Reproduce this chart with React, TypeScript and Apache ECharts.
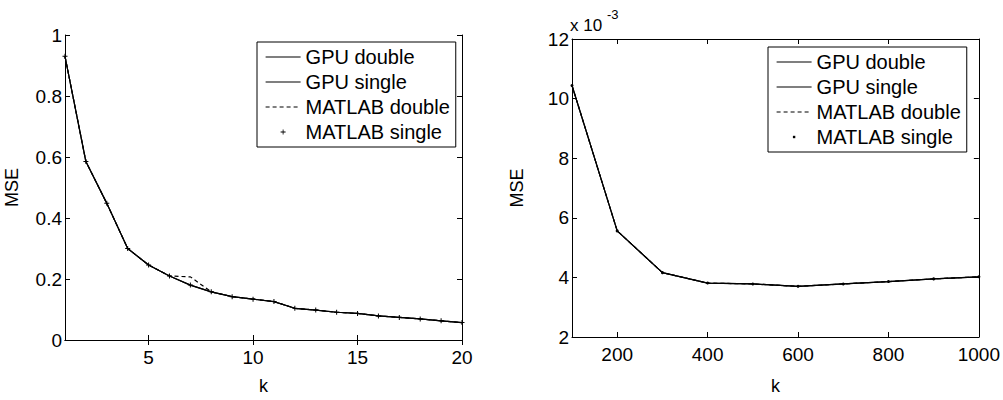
import React, { useEffect, useRef } from "react";
import * as echarts from "echarts";

// ---------- data ----------
const kLeft = [1, 2, 3, 4, 5, 6, 7, 8, 9, 10, 11, 12, 13, 14, 15, 16, 17, 18, 19, 20];
const leftGpuDouble = [0.93, 0.585, 0.448, 0.3, 0.246, 0.21, 0.18, 0.158, 0.142, 0.134, 0.126, 0.104, 0.098, 0.091, 0.087, 0.079, 0.074, 0.069, 0.063, 0.057];
const leftGpuSingle = [0.93, 0.585, 0.448, 0.3, 0.246, 0.21, 0.18, 0.158, 0.142, 0.134, 0.126, 0.104, 0.098, 0.091, 0.087, 0.079, 0.074, 0.069, 0.063, 0.057];
const leftMatlabDouble = [0.93, 0.585, 0.448, 0.3, 0.246, 0.21, 0.207, 0.158, 0.142, 0.134, 0.126, 0.104, 0.098, 0.091, 0.087, 0.079, 0.074, 0.069, 0.063, 0.057];
const leftMatlabSingle = [0.93, 0.585, 0.448, 0.3, 0.246, 0.21, 0.18, 0.158, 0.142, 0.134, 0.126, 0.104, 0.098, 0.091, 0.087, 0.079, 0.074, 0.069, 0.063, 0.057];

// right chart values in units of 1e-3
const kRight = [100, 200, 300, 400, 500, 600, 700, 800, 900, 1000];
const rightGpuDouble = [10.44, 5.56, 4.16, 3.81, 3.78, 3.7, 3.78, 3.86, 3.95, 4.02];
const rightGpuSingle = [10.44, 5.56, 4.16, 3.81, 3.78, 3.7, 3.78, 3.86, 3.95, 4.02];
const rightMatlabDouble = [10.44, 5.56, 4.16, 3.81, 3.78, 3.7, 3.78, 3.86, 3.95, 4.02];
const rightMatlabSingle = [10.44, 5.56, 4.16, 3.81, 3.78, 3.7, 3.78, 3.86, 3.95, 4.02];

const leftXTicks = [5, 10, 15, 20];
const rightXTicks = [200, 400, 600, 800, 1000];
const seriesNames = ["GPU double", "GPU single", "MATLAB double", "MATLAB single"];

const FONT = "'Liberation Sans', Arial, sans-serif";
const PLUS = "path://M2 0 L3 0 L3 2 L5 2 L5 3 L3 3 L3 5 L2 5 L2 3 L0 3 L0 2 L2 2 Z";
// legend icons with an invisible padded bounding box so the mark stays small
const PLUS_ICON = "path://M0 0 M10 10 M4.6 2.5 L5.4 2.5 L5.4 4.6 L7.5 4.6 L7.5 5.4 L5.4 5.4 L5.4 7.5 L4.6 7.5 L4.6 5.4 L2.5 5.4 L2.5 4.6 L4.6 4.6 Z";
const DOT_ICON = "path://M0 0 M10 10 M3.8 3.8 L6.2 3.8 L6.2 6.2 L3.8 6.2 Z";

const zip = (xs: number[], ys: number[]) => xs.map((x, i) => [x, ys[i]]);

function App() {
  const ref = useRef<HTMLDivElement>(null);
  useEffect(() => {
    if (!ref.current) return;
    const chart = echarts.init(ref.current, null, { renderer: "svg" });

    const axisLine = { show: true, lineStyle: { color: "#000", width: 1 } };
    const tick = (custom?: number[]) => ({
      show: true,
      inside: true,
      length: 5,
      lineStyle: { color: "#000", width: 1 },
      ...(custom ? { customValues: custom } : {}),
    });
    const label = (extra: any = {}) => ({
      color: "#000",
      fontFamily: FONT,
      fontSize: 19,
      ...extra,
    });
    const nameStyle = { color: "#000", fontFamily: FONT, fontSize: 18 };

    const xAxes: any[] = [
      {
        type: "value", gridIndex: 0, min: 1, max: 20, position: "bottom",
        name: "k", nameLocation: "middle", nameGap: 37, nameTextStyle: nameStyle,
        axisLine, axisTick: tick(leftXTicks), splitLine: { show: false },
        axisLabel: label({ customValues: leftXTicks, margin: 8 }),
      },
      {
        type: "value", gridIndex: 0, min: 1, max: 20, position: "top",
        axisLine, axisTick: tick(leftXTicks), splitLine: { show: false },
        axisLabel: { show: false },
      },
      {
        type: "value", gridIndex: 1, min: 100, max: 1000, position: "bottom",
        name: "k", nameLocation: "middle", nameGap: 40, nameTextStyle: nameStyle,
        axisLine, axisTick: tick(rightXTicks), splitLine: { show: false },
        axisLabel: label({ customValues: rightXTicks, margin: 8, formatter: (v: number) => String(v) }),
      },
      {
        type: "value", gridIndex: 1, min: 100, max: 1000, position: "top",
        axisLine, axisTick: tick(rightXTicks), splitLine: { show: false },
        axisLabel: { show: false },
      },
    ];
    const yAxes: any[] = [
      {
        type: "value", gridIndex: 0, min: 0, max: 1, interval: 0.2, position: "left",
        name: "MSE", nameLocation: "middle", nameGap: 44, nameRotate: 90, nameTextStyle: nameStyle,
        axisLine, axisTick: tick(), splitLine: { show: false },
        axisLabel: label({ margin: 3, formatter: (v: number) => String(Math.round(v * 10) / 10) }),
      },
      {
        type: "value", gridIndex: 0, min: 0, max: 1, interval: 0.2, position: "right",
        axisLine, axisTick: tick(), splitLine: { show: false }, axisLabel: { show: false },
      },
      {
        type: "value", gridIndex: 1, min: 2, max: 12, interval: 2, position: "left",
        name: "MSE", nameLocation: "middle", nameGap: 46, nameRotate: 90, nameTextStyle: nameStyle,
        axisLine, axisTick: tick(), splitLine: { show: false },
        axisLabel: label({ margin: 3 }),
      },
      {
        type: "value", gridIndex: 1, min: 2, max: 12, interval: 2, position: "right",
        axisLine, axisTick: tick(), splitLine: { show: false }, axisLabel: { show: false },
      },
    ];

    const makeSeries = (xi: number, yi: number, xs: number[], sets: number[][], markerSymbol: string, markerSize: number) => [
      {
        name: seriesNames[0], type: "line", xAxisIndex: xi, yAxisIndex: yi,
        data: zip(xs, sets[0]), symbol: "none", lineStyle: { color: "#000", width: 1.2 }, itemStyle: { color: "#000" },
      },
      {
        name: seriesNames[1], type: "line", xAxisIndex: xi, yAxisIndex: yi,
        data: zip(xs, sets[1]), symbol: "none", lineStyle: { color: "#000", width: 1.2 }, itemStyle: { color: "#000" },
      },
      {
        name: seriesNames[2], type: "line", xAxisIndex: xi, yAxisIndex: yi,
        data: zip(xs, sets[2]), symbol: "none", lineStyle: { color: "#000", width: 1.2, type: [4, 3] }, itemStyle: { color: "#000" },
      },
      {
        name: seriesNames[3], type: "line", xAxisIndex: xi, yAxisIndex: yi,
        data: zip(xs, sets[3]), symbol: markerSymbol, symbolSize: markerSize, showSymbol: true, showAllSymbol: true,
        lineStyle: { color: "#000", width: 0, opacity: 0 }, itemStyle: { color: "#000" },
      },
    ];

    const legendCommon = {
      orient: "vertical",
      backgroundColor: "#fff",
      borderColor: "#000",
      borderWidth: 1,
      itemWidth: 35,
      itemHeight: 10,
      itemGap: 5,
      selectedMode: false,
      lineStyle: { width: 1.2 },
      textStyle: { color: "#000", fontFamily: FONT, fontSize: 20, lineHeight: 19 },
    };
    const legendData = (markerIcon: string) =>
      seriesNames.map((n, i) =>
        i === 3
          ? { name: n, icon: markerIcon, itemStyle: { color: "#000", opacity: 1 } }
          : { name: n, itemStyle: { opacity: 0 } }
      );

    chart.setOption({
      animation: false,
      backgroundColor: "#fff",
      grid: [
        { left: 65, top: 35, width: 397, height: 305 },
        { left: 572, top: 39, width: 408, height: 313 },
      ],
      xAxis: xAxes,
      yAxis: yAxes,
      legend: [
        { ...legendCommon, left: 257, top: 42, padding: [5, 6, 5, 8], data: legendData(PLUS_ICON) },
        { ...legendCommon, left: 768, top: 47, padding: [5, 6, 5, 8], data: legendData(DOT_ICON) },
      ],
      graphic: [
        { type: "text", left: 570, top: 17, style: { text: "x 10", fill: "#000", font: `17px ${FONT}` } },
        { type: "text", left: 607, top: 8, style: { text: "-3", fill: "#000", font: `13px ${FONT}` } },
      ],
      series: [
        ...makeSeries(0, 0, kLeft, [leftGpuDouble, leftGpuSingle, leftMatlabDouble, leftMatlabSingle], PLUS, 5),
        ...makeSeries(2, 2, kRight, [rightGpuDouble, rightGpuSingle, rightMatlabDouble, rightMatlabSingle], "circle", 3),
      ],
    });
    return () => chart.dispose();
  }, []);
  return <div ref={ref} style={{ position: "absolute", left: 0, top: 0, width: 1003, height: 400 }} />;
}

export default App;
